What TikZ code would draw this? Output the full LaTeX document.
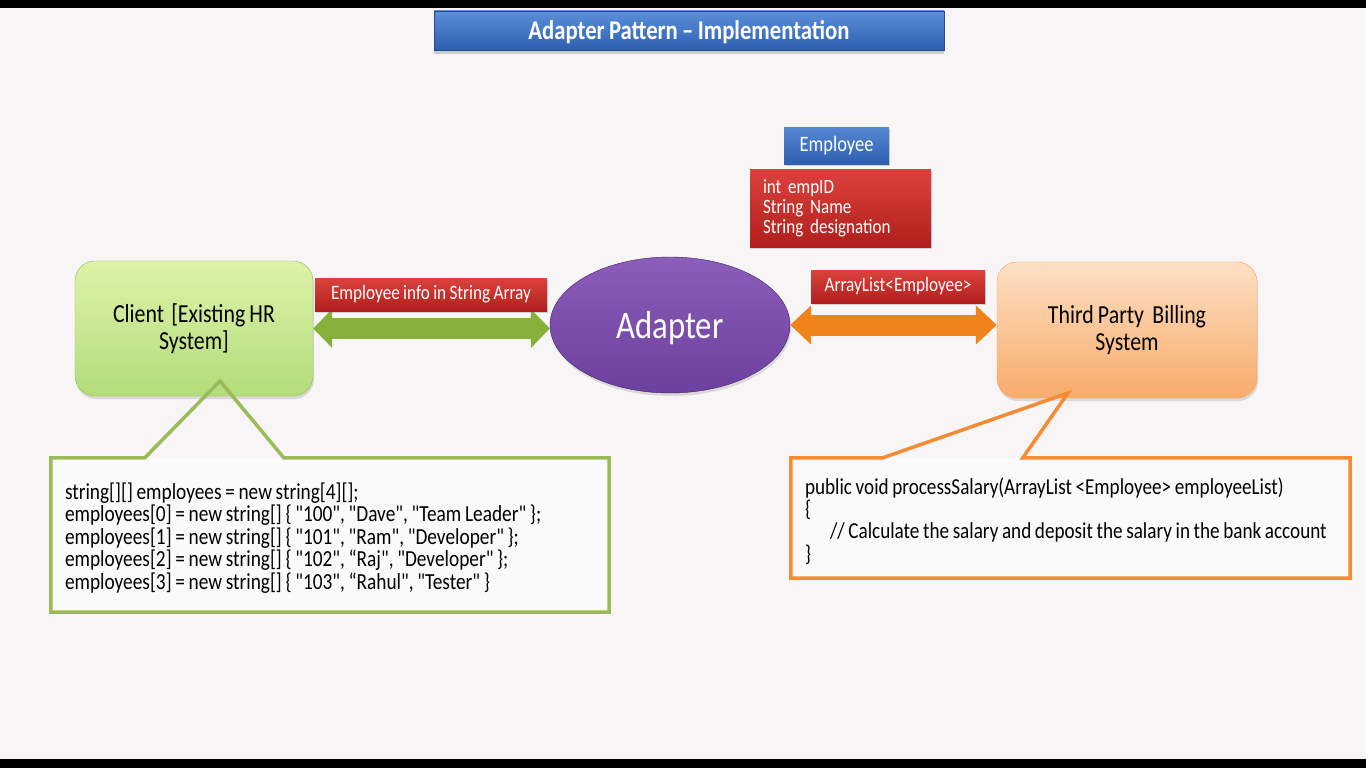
\documentclass[tikz,border=0pt]{standalone}
\usepackage{fontspec}
\setmainfont{Carlito}[FakeStretch=0.84,WordSpace=0.84,Ligatures=TeXOff]
\usetikzlibrary{arrows.meta,shapes.geometric,shadows}

\definecolor{pagebg}{HTML}{F7F5F5}
\definecolor{bluetop}{HTML}{5B8FDA}
\definecolor{bluebot}{HTML}{2D5FAE}
\definecolor{redtop}{HTML}{DC423D}
\definecolor{redbot}{HTML}{B01F1C}
\definecolor{greentop}{HTML}{DDF3A8}
\definecolor{greenbot}{HTML}{B3DC7A}
\definecolor{hrgreen}{HTML}{9BBB59}
\definecolor{purpletop}{HTML}{8C5DBB}
\definecolor{purplebot}{HTML}{6C409E}
\definecolor{peachtop}{HTML}{FDDFC4}
\definecolor{peachbot}{HTML}{F8AC6A}
\definecolor{billorange}{HTML}{F58B33}
\definecolor{arrowgreen}{HTML}{86B03A}
\definecolor{arroworange}{HTML}{F0841A}

\begin{document}
\begin{tikzpicture}[x=1pt,y=-1pt,every node/.style={inner sep=0pt},
	titlebox/.style={top color=bluetop,bottom color=bluebot,draw=bluebot!80!black,text=white,
		font=\bfseries\fontsize{27}{30}\selectfont,minimum width=510pt,minimum height=39pt,
		drop shadow={shadow xshift=0pt,shadow yshift=-4pt,opacity=.35}},
	bluebox/.style={top color=bluetop!85!bluebot,bottom color=bluebot,text=white,
		font=\fontsize{22}{26}\selectfont,minimum width=105pt,minimum height=37pt,
		drop shadow={shadow xshift=1pt,shadow yshift=-2pt,opacity=.3}},
	redlabel/.style={top color=redtop,bottom color=redbot,text=white,
		font=\fontsize{20.5}{20.5}\selectfont,minimum height=33pt,
		drop shadow={shadow xshift=1pt,shadow yshift=-2pt,opacity=.3}},
	mainbox/.style={rounded corners=20pt,align=center,font=\fontsize{26}{27.5}\selectfont,
		drop shadow={shadow xshift=1pt,shadow yshift=-3pt,opacity=.25}},
	codetext/.style={align=left,anchor=west,font=\fontsize{23}{22.6}\selectfont},
	callbox/.style={draw=none,fill=pagebg!50!white},
	greenarrow/.style={draw=arrowgreen,line width=21pt,arrows={Triangle[width=38pt,length=19pt]-Triangle[width=38pt,length=19pt]}},
	orangearrow/.style={draw=arroworange,line width=21pt,arrows={Triangle[width=38pt,length=21pt]-Triangle[width=38pt,length=21pt]}}]

	%background
	\fill[pagebg] (0,0) rectangle (1366,768);
	\fill[black] (0,0) rectangle (1366,8);
	\fill[black] (0,759) rectangle (1366,768);
	\useasboundingbox (0,0) rectangle (1366,768);

	%title
	\node[titlebox] (title) at (689,30.5) {\raisebox{-2pt}[\height][\depth]{Adapter Pattern – Implementation}};

	%employee class
	\node[bluebox] (employee) at (836.5,145.5) {Employee};
	\node[redlabel,align=left,inner xsep=13pt,text width=155pt,minimum height=78pt,
		font=\fontsize{20.3}{20}\selectfont] (fields) at (840.5,208) {int empID\\String Name\\String designation};

	%client, adapter, billing
	\node[mainbox,top color=greentop,bottom color=greenbot,draw=hrgreen,
		minimum width=238pt,minimum height=135pt] (client) at (194,328.5) {Client\hspace{3pt} [Existing HR\\System]};
	\node[ellipse,top color=purpletop,bottom color=purplebot,draw=purplebot!60!black,text=white,
		minimum width=240pt,minimum height=136pt,font=\fontsize{39}{40}\selectfont,
		drop shadow={shadow xshift=1pt,shadow yshift=-3pt,opacity=.25}] (adapter) at (670,325) {\raisebox{-3pt}[\height][\depth]{Adapter}};
	\node[mainbox,top color=peachtop,bottom color=peachbot,draw=billorange!80,
		minimum width=260pt,minimum height=136pt] (billing) at (1127,330) {Third Party~ Billing\\System};

	%connectors
	\draw[greenarrow] (client.east) -- (client.east -| adapter.west);
	\draw[orangearrow] (adapter.east) -- (adapter.east -| billing.west);
	\node[redlabel,minimum width=232pt] (stringlbl) at (431,294.5) {Employee info in String Array};
	\node[redlabel,minimum width=174pt] (listlbl) at (898,286.5) {ArrayList<Employee>};

	%client code
	\node[callbox,minimum width=558pt,minimum height=154pt] (hrcode) at (330,535) {};
	\node[codetext] (hrlines) at ([xshift=14pt,yshift=-3pt]hrcode.west) {string[][] employees = new string[4][];\\
		employees[0] = new string[] \{ "100", "Dave", "Team Leader" \};\\
		employees[1] = new string[] \{ "101", "Ram", "Developer" \};\\
		employees[2] = new string[] \{ "102", “Raj", "Developer" \};\\
		employees[3] = new string[] \{ "103", “Rahul", "Tester" \}};
	\coordinate (hrtip) at (220,381);
	\draw[hrgreen,line width=3.5pt] (hrcode.north west) -- ([xshift=94pt]hrcode.north west) -- (hrtip)
		-- ([xshift=233pt]hrcode.north west) -- (hrcode.north east) -- (hrcode.south east) -- (hrcode.south west) -- cycle;

	%billing code
	\node[callbox,minimum width=559pt,minimum height=120pt] (billcode) at (1070.5,518) {};
	\node[codetext,font=\fontsize{22.8}{22.4}\selectfont] (billlines) at ([xshift=14pt,yshift=-3pt]billcode.west) {public void processSalary(ArrayList <Employee> employeeList)\\
		\{\\
		\hspace*{25pt}// Calculate the salary and deposit the salary in the bank account\\
		\}};
	\coordinate (billtip) at (1068,393);
	\draw[billorange,line width=3.5pt] (billcode.north west) -- ([xshift=92pt]billcode.north west) -- (billtip)
		-- ([xshift=232pt]billcode.north west) -- (billcode.north east) -- (billcode.south east) -- (billcode.south west) -- cycle;

\end{tikzpicture}
\end{document}
